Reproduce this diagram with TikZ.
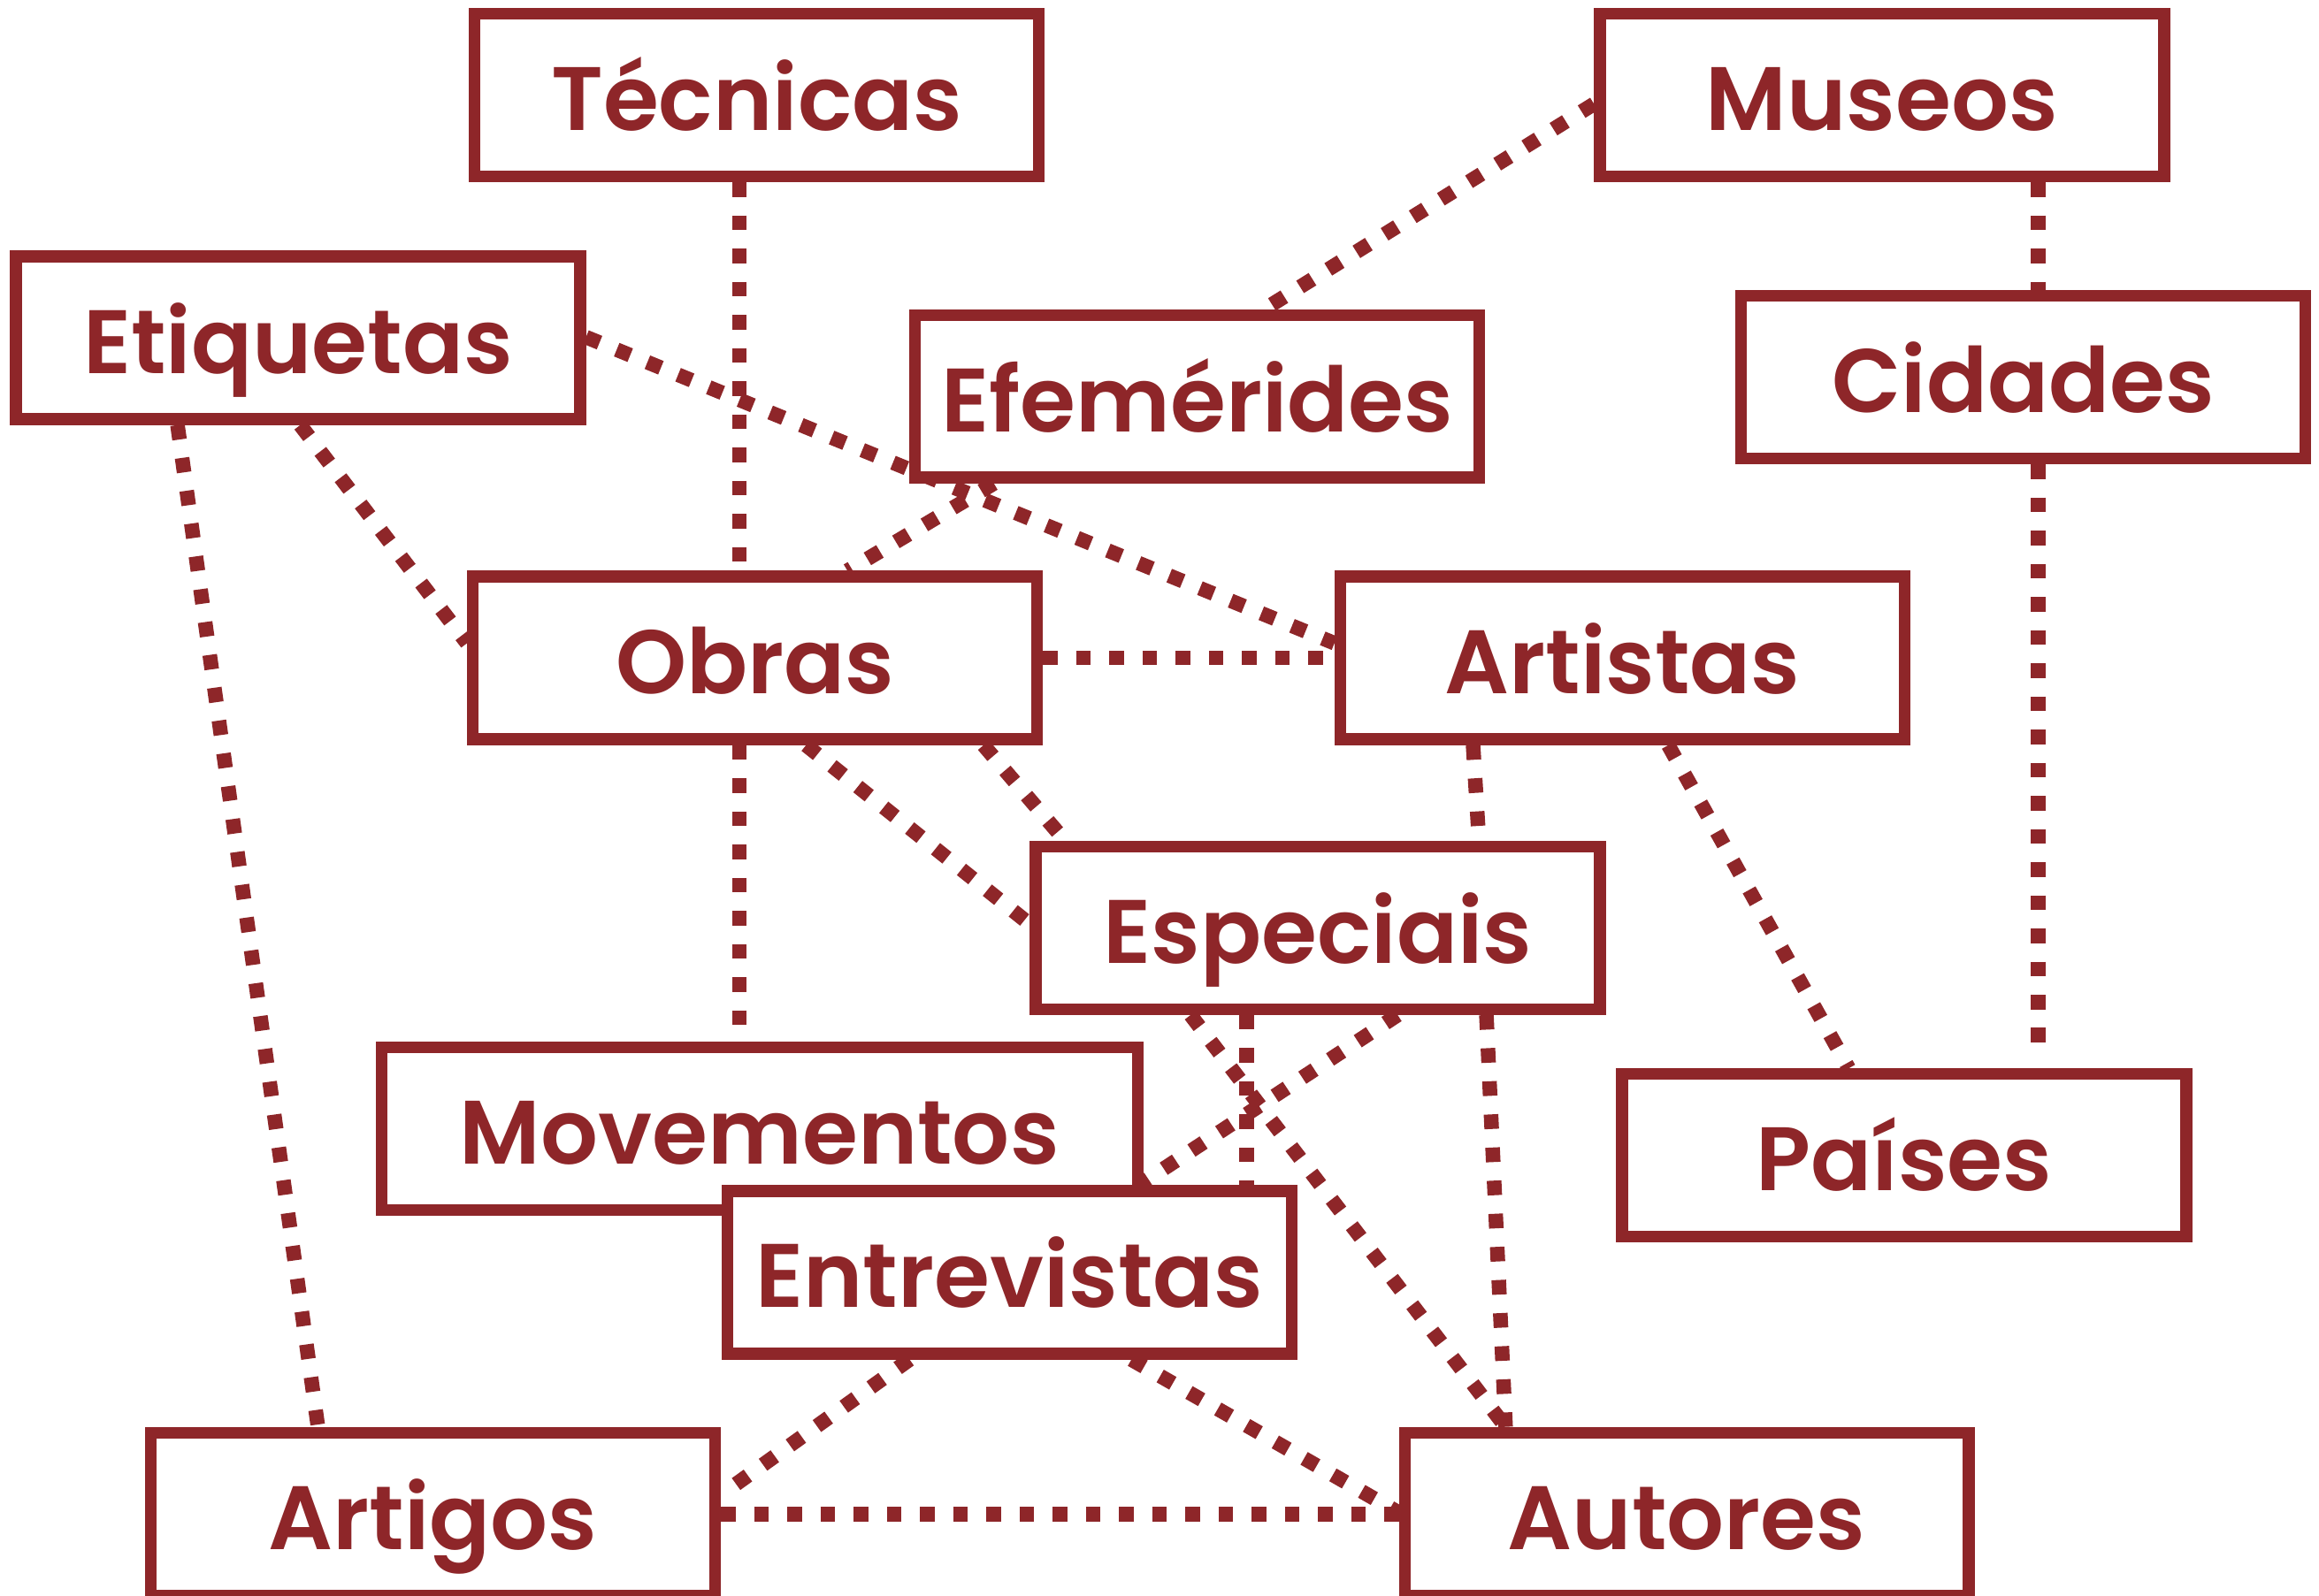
\documentclass[tikz,border=0pt]{standalone}
\usepackage{fontspec}
\IfFontExistsTF{Poppins SemiBold}{\newfontfamily\lbl{Poppins SemiBold}}{\newfontfamily\lbl{Poppins}[UprightFeatures={FakeBold=1.5}]}
\usetikzlibrary{backgrounds,calc}
\definecolor{wine}{RGB}{142,38,41}
\tikzset{
  box/.style={draw=wine, line width=0.133cm, fill=white, minimum width=6.38cm,
    minimum height=1.84cm, inner sep=0pt, text=wine,
    font=\lbl\fontsize{29}{30}\selectfont, text height=0.80cm, text depth=0cm},
  link/.style={draw=wine, line width=0.165cm, dash pattern=on 0.165cm off 0.21cm},
}
\begin{document}
\begin{tikzpicture}[x=0.01672cm,y=-0.01672cm]
\path[use as bounding box] (0,0) rectangle (1568,1079);
\node[box] (tec) at (511.7,64.3) {Técnicas};
\node[box] (mus) at (1272.5,64.3) {Museos};
\node[box] (eti) at (201.5,228.5) {Etiquetas};
\node[box] (efe) at (809.5,268) {Efemérides};
\node[box] (cid) at (1368,255) {Cidades};
\node[box] (obr) at (510.5,445) {Obras};
\node[box] (art) at (1097,445) {Artistas};
\node[box] (esp) at (891,627.5) {Especiais};
\node[box, minimum width=8.55cm] (mov) at (513.5,763.5) {Movementos};
\node[box] (ent) at (682.5,860.5) {Entrevistas};
\node[box] (pai) at (1287.5,781.5) {Países};
\node[box] (atg) at (292.8,1024) {Artigos};
\node[box] (aut) at (1140.5,1024) {Autores};
\begin{pgfonlayer}{background}
\draw[link] ($(tec.south)+(-11.7,0)$) -- ($(obr.north)+(-10.5,0)$);
\draw[link] ($(mus.west)+(0,6)$) -- ($(efe.north)+(45.5,0)$);
\draw[link] ($(mus.south)+(105.5,0)$) -- ($(cid.north)+(10,0)$);
\draw[link] ($(eti.east)+(0,-0.5)$) -- ($(art.west)+(0,-10)$);
\draw[link] ($(eti.south)+(1.5,0)$) -- ($(obr.west)+(0,-10)$);
\draw[link] ($(eti.south)+(-81.5,0)$) -- ($(atg.north)+(-77.8,0)$);
\draw[link] ($(efe.south)+(-137.5,0)$) -- ($(obr.north)+(62.5,0)$);
\draw[link] (obr.east) -- (art.west);
\draw[link] ($(obr.south)+(-10.5,0)$) -- ($(mov.north)+(-13.5,0)$);
\draw[link] ($(obr.south)+(34.5,0)$) -- ($(esp.west)+(0,-2.5)$);
\draw[link] ($(obr.south)+(154.5,0)$) -- ($(esp.north)+(-171,0)$);
\draw[link] ($(art.south)+(-101,0)$) -- ($(esp.north)+(109,0)$);
\draw[link] ($(art.south)+(31,0)$) -- ($(pai.north)+(-37.5,0)$);
\draw[link] ($(cid.south)+(10,0)$) -- ($(pai.north)+(90.5,-14)$);
\draw[link] ($(esp.south)+(-48,0)$) -- ($(ent.north)+(160.5,0)$);
\draw[link] ($(esp.south)+(54,0)$) -- ($(ent.north)+(87.5,0)$);
\draw[link] ($(esp.south)+(-86,0)$) -- ($(aut.north)+(-122.5,0)$);
\draw[link] ($(esp.south)+(114,0)$) -- ($(aut.north)+(-122.5,0)$);
\draw[link] ($(ent.south)+(-67.5,0)$) -- ($(atg.east)+(0,-13)$);
\draw[link] ($(ent.south)+(82.5,0)$) -- ($(aut.west)+(0,-1)$);
\draw[link] (atg.east) -- (aut.west);
\end{pgfonlayer}
\end{tikzpicture}
\end{document}
